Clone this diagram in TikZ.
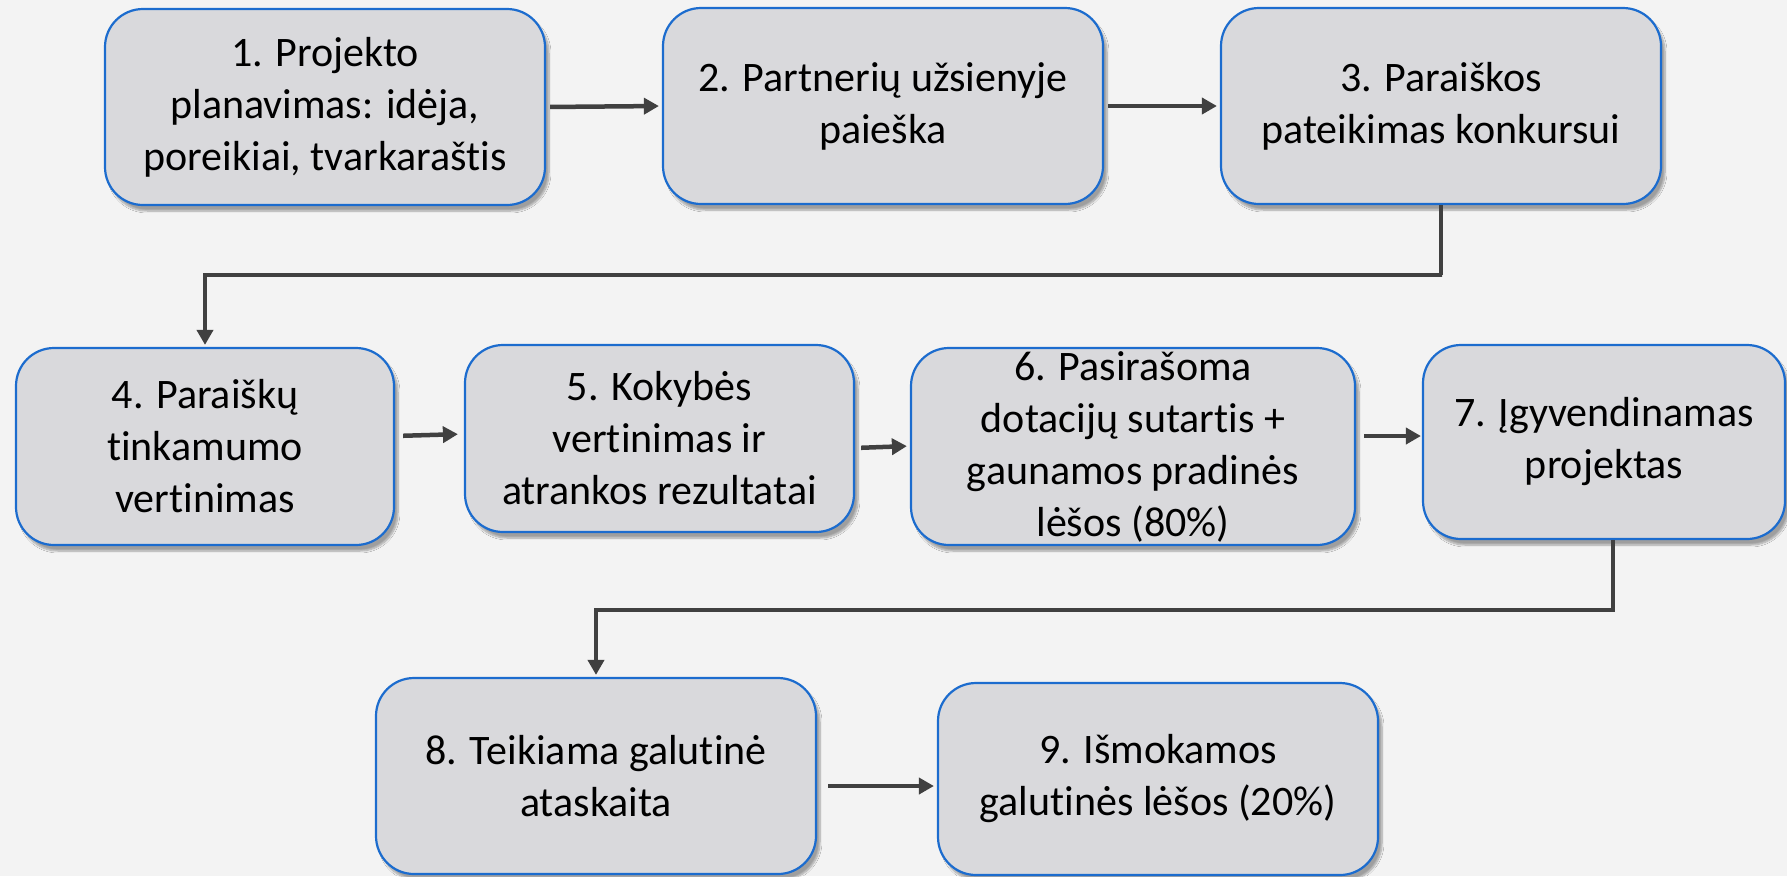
\documentclass[tikz,border=0pt]{standalone}
\usepackage{fontspec}
\setmainfont{Carlito}[Ligatures={NoCommon,NoRequired,NoContextual}]
\usetikzlibrary{arrows.meta,shadows.blur}
\definecolor{bgc}{HTML}{F3F3F3}
\definecolor{boxfill}{HTML}{D9D9DC}
\definecolor{boxline}{RGB}{28,108,206}
\definecolor{conn}{HTML}{404040}
\tikzset{
  stepbox/.style={draw=boxline, line width=2.2pt, fill=boxfill, rounded corners=38pt,
    align=center, inner sep=0pt,
    font=\fontsize{42}{52}\selectfont,
    blur shadow={shadow xshift=4pt, shadow yshift=-6pt, shadow opacity=35, shadow blur steps=8}},
  arr/.style={draw=conn, line width=4.5pt, -{Triangle[length=15pt,width=16pt]}}
}
\begin{document}
\begin{tikzpicture}[x=1pt,y=-1pt]
\useasboundingbox (0,0) rectangle (1787,876);
\fill[bgc] (0,0) rectangle (1787,876);
\node[stepbox, minimum width=440pt, minimum height=196pt] (b1) at (325,107) {1. Projekto\\planavimas: idėja,\\poreikiai, tvarkaraštis};
\node[stepbox, minimum width=440pt, minimum height=196pt] (b2) at (883,106) {2. Partnerių užsienyje\\paieška};
\node[stepbox, minimum width=440pt, minimum height=196pt] (b3) at (1441,106) {3. Paraiškos\\pateikimas konkursui};
\node[stepbox, minimum width=378pt, minimum height=197pt] (b4) at (205,446.5) {4. Paraiškų\\tinkamumo\\vertinimas};
\node[stepbox, minimum width=389pt, minimum height=187pt] (b5) at (659.5,438.5) {5. Kokybės\\vertinimas ir\\atrankos rezultatai};
\node[stepbox, minimum width=444pt, minimum height=197pt] (b6) at (1133,446.5) {6. Pasirašoma\\dotacijų sutartis +\\gaunamos pradinės\\lėšos (80\%)};
\node[stepbox, minimum width=362pt, minimum height=194pt] (b7) at (1604,442) {7. Įgyvendinamas\\projektas};
\node[stepbox, minimum width=440pt, minimum height=196pt] (b8) at (596,776) {8. Teikiama galutinė\\ataskaita};
\node[stepbox, minimum width=440pt, minimum height=192pt] (b9) at (1158,779) {9. Išmokamos\\galutinės lėšos (20\%)};
\coordinate (k3) at (1442,275);
\coordinate (k7) at (1613,610);
\draw[arr, shorten <=4pt, shorten >=3pt] (b1.east) -- (b2.west);
\draw[arr, shorten <=4pt, shorten >=3pt] (b2.east) -- (b3.west);
\draw[arr, shorten >=2pt] (b3.south) |- (k3) -| (b4.north);
\draw[arr, shorten <=8pt, shorten >=6pt] ([yshift=10.5pt]b4.east) -- ([yshift=4.5pt]b5.west);
\draw[arr, shorten <=6pt, shorten >=3pt] ([yshift=-9.5pt]b5.east) -- ([yshift=0.5pt]b6.west);
\draw[arr, shorten <=8pt, shorten >=1pt] ([yshift=10.5pt]b6.east) -- ([yshift=6pt]b7.west);
\draw[arr, shorten >=2pt] (b7.south -| k7) -- (k7) -| (b8.north);
\draw[arr, shorten <=11pt, shorten >=3pt] ([yshift=-10pt]b8.east) -- ([yshift=-7pt]b9.west);
\end{tikzpicture}
\end{document}
